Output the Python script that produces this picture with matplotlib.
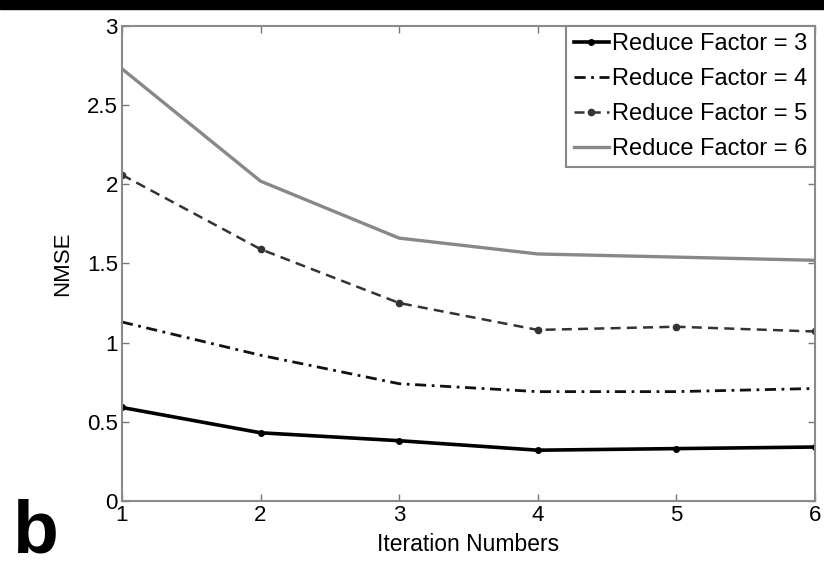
import matplotlib
matplotlib.use("Agg")
import matplotlib.pyplot as plt
from matplotlib.patches import Rectangle

plt.rcParams['font.family'] = ['Liberation Sans', 'DejaVu Sans']

iterations = [1, 2, 3, 4, 5, 6]
rf3 = [0.59, 0.43, 0.38, 0.32, 0.33, 0.34]
rf4 = [1.13, 0.92, 0.74, 0.69, 0.69, 0.71]
rf5 = [2.06, 1.59, 1.25, 1.08, 1.10, 1.07]
rf6 = [2.73, 2.02, 1.66, 1.56, 1.54, 1.52]
labels = ["Reduce Factor = 3", "Reduce Factor = 4", "Reduce Factor = 5", "Reduce Factor = 6"]
yticks = [0, 0.5, 1, 1.5, 2, 2.5, 3]
ytick_labels = ["0", "0.5", "1", "1.5", "2", "2.5", "3"]

fig = plt.figure(figsize=(8.24, 5.79), dpi=100)
ax = fig.add_axes([0.148, 0.135, 0.841, 0.82])

ax.plot(iterations, rf3, color='black', lw=2.6, marker='o', ms=4, label=labels[0])
ax.plot(iterations, rf4, color='#111111', lw=2.0, linestyle=(0, (4, 2, 1, 2)), label=labels[1])
ax.plot(iterations, rf5, color='#333333', lw=1.8, linestyle=(0, (4, 2.5)), marker='o', ms=4.5, label=labels[2])
ax.plot(iterations, rf6, color='#888888', lw=2.4, label=labels[3])

ax.set_xlim(1, 6)
ax.set_ylim(0, 3)
ax.set_xticks(iterations)
ax.set_xticklabels([str(i) for i in iterations])
ax.set_yticks(yticks)
ax.set_yticklabels(ytick_labels)
ax.tick_params(direction='in', top=True, right=True, length=5, width=1, color='#777777',
               labelsize=16, pad=3)
for s in ax.spines.values():
    s.set_color('#8a8a8a')
    s.set_linewidth(1.5)

ax.set_xlabel("Iteration Numbers", fontsize=16.5, labelpad=5)
ax.set_ylabel("NMSE", fontsize=16, labelpad=10)

leg = ax.legend(loc='upper right', borderaxespad=0, fontsize=17, handlelength=1.5,
                handletextpad=0.15, labelspacing=0.55, borderpad=0.3, fancybox=False,
                framealpha=1, edgecolor='#888888')
leg.get_frame().set_linewidth(1.5)

fig.text(0.015, 0.045, "b", fontsize=54, fontweight='bold', ha='left', va='baseline')
fig.add_artist(Rectangle((0, 0.985), 1, 0.015, transform=fig.transFigure,
                         color='black', zorder=10))

fig.savefig("out.png", dpi=100)
